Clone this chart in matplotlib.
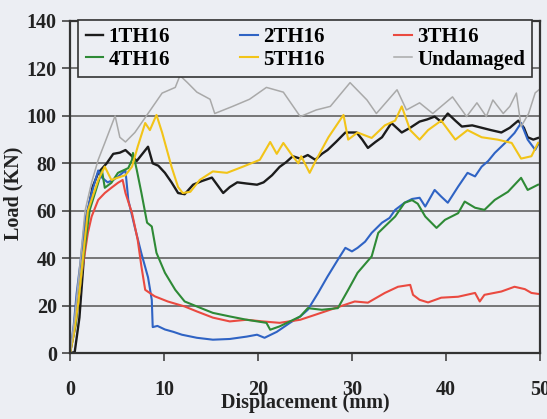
import numpy as np
import matplotlib
matplotlib.use("Agg")
import matplotlib.pyplot as plt

# traced load-displacement curves (displacement mm, load kN)
x_1th16 = [0.0, 0.5, 1.0, 1.8, 2.4, 3.0, 3.9, 4.6, 5.3, 5.9, 6.6, 7.1, 7.7, 8.3, 8.8, 9.4, 10.1, 10.8, 11.5, 12.2,
           13.1, 14.0, 15.1, 16.3, 17.0, 17.8, 18.8, 19.9, 20.6, 21.5, 22.3, 23.0, 23.7, 24.5, 25.3, 26.1, 26.8,
           27.4, 28.3, 29.3, 30.5, 31.1, 31.7, 32.5, 33.2, 34.2, 35.3, 36.2, 37.2, 38.0, 38.8, 39.5, 40.2, 41.0,
           41.7, 42.8, 43.8, 44.8, 45.9, 46.8, 47.7, 48.3, 48.7, 49.3, 49.8]
y_1th16 = [0.0, 0.5, 15.0, 57.6, 70.0, 76.0, 80.0, 84.0, 84.5, 85.6, 83.0, 81.0, 84.0, 87.0, 80.0, 79.0, 76.0, 72.0,
           67.5, 67.0, 71.0, 72.5, 74.0, 67.5, 70.0, 72.0, 71.5, 71.0, 72.0, 75.0, 78.5, 80.5, 83.0, 82.0, 83.5,
           81.5, 84.0, 85.6, 89.0, 93.0, 93.0, 90.0, 86.5, 89.0, 91.0, 97.0, 93.0, 95.0, 97.6, 98.5, 99.7, 97.5,
           101.0, 98.0, 95.5, 96.0, 95.0, 94.0, 93.0, 95.0, 98.0, 95.0, 91.0, 90.0, 90.7]

x_2th16 = [0.0, 0.4, 0.7, 1.1, 1.6, 2.3, 3.0, 3.4, 4.0, 4.6, 5.1, 5.9, 6.2, 6.9, 7.6, 8.3, 8.7, 8.8, 9.3, 10.1,
           11.0, 11.9, 13.5, 15.2, 17.0, 18.8, 19.9, 20.7, 22.0, 23.4, 24.5, 25.3, 26.4, 27.4, 28.5, 29.3, 30.0,
           30.6, 31.4, 32.1, 33.2, 34.0, 34.6, 35.6, 36.4, 37.2, 37.8, 38.8, 39.5, 40.2, 41.3, 42.3, 43.1, 43.8,
           44.5, 45.2, 46.3, 47.3, 48.0, 48.7, 49.5, 49.9]
y_2th16 = [0.0, 12.0, 25.0, 38.0, 56.0, 67.5, 77.0, 74.0, 72.0, 73.0, 74.4, 77.0, 64.6, 53.0, 42.0, 32.0, 22.5, 11.0,
           11.5, 10.0, 9.0, 7.8, 6.5, 5.7, 6.0, 7.0, 7.8, 6.5, 9.0, 12.8, 15.5, 18.3, 25.4, 32.3, 39.4, 44.4, 42.9,
           44.4, 47.0, 50.7, 55.0, 57.0, 60.4, 63.4, 65.0, 65.5, 61.8, 68.8, 66.0, 63.4, 70.2, 76.0, 74.5, 78.6,
           81.0, 84.4, 88.6, 92.8, 97.0, 90.0, 85.7, 88.6]

x_3th16 = [0.0, 0.6, 1.2, 1.9, 2.3, 3.0, 3.7, 4.4, 5.1, 5.6, 5.9, 6.6, 7.2, 7.6, 8.0, 9.0, 10.4, 12.2, 13.5, 15.2,
           17.0, 18.8, 20.5, 22.3, 24.5, 26.1, 28.2, 30.3, 31.7, 33.5, 34.9, 36.2, 36.5, 37.2, 38.1, 39.5, 41.3,
           43.1, 43.6, 44.1, 45.9, 47.3, 48.4, 49.1, 49.8]
y_3th16 = [0.0, 12.0, 32.3, 50.7, 57.6, 64.6, 67.5, 69.7, 71.8, 73.0, 67.5, 59.0, 47.8, 36.5, 26.7, 24.0, 21.8, 19.7,
           17.6, 15.0, 13.4, 14.1, 13.4, 12.8, 14.1, 16.2, 19.0, 21.8, 21.3, 25.4, 28.0, 28.8, 24.6, 22.5, 21.4,
           23.4, 23.8, 25.4, 21.8, 24.6, 26.0, 28.0, 27.0, 25.4, 25.0]

x_4th16 = [0.0, 0.6, 1.4, 2.1, 3.0, 3.4, 3.7, 4.4, 5.1, 6.2, 6.6, 6.7, 7.1, 7.6, 8.2, 8.7, 9.2, 10.1, 11.2, 12.2,
           13.5, 15.2, 17.0, 18.8, 20.9, 21.3, 22.3, 23.4, 24.5, 25.3, 26.8, 28.5, 29.6, 30.6, 32.1, 32.8, 33.5,
           34.6, 35.6, 36.4, 37.0, 37.8, 39.0, 39.9, 41.3, 42.0, 43.1, 44.1, 45.2, 46.6, 48.0, 48.7, 49.8]
y_4th16 = [0.0, 12.0, 39.4, 60.4, 71.8, 77.0, 69.7, 71.8, 76.0, 78.0, 81.5, 84.4, 77.3, 67.5, 55.0, 53.4, 42.3, 33.9,
           26.7, 21.8, 19.7, 17.0, 15.5, 14.1, 12.8, 9.9, 11.3, 13.4, 15.5, 19.0, 18.3, 19.0, 26.7, 33.9, 40.8,
           50.7, 53.4, 57.6, 63.4, 64.5, 63.0, 57.6, 52.8, 56.2, 59.0, 63.9, 61.3, 60.4, 64.6, 68.0, 73.9, 68.8,
           71.0]

x_5th16 = [0.0, 0.4, 0.9, 1.9, 3.0, 3.7, 4.4, 5.1, 5.9, 6.6, 7.2, 8.0, 8.5, 9.2, 9.8, 10.8, 11.5, 12.0, 12.8, 13.8,
           15.2, 16.7, 18.4, 20.2, 21.3, 22.0, 22.7, 23.7, 24.3, 24.6, 25.5, 26.2, 27.5, 29.1, 29.6, 30.6, 32.1,
           33.5, 34.6, 35.3, 36.2, 37.2, 38.1, 39.5, 41.0, 42.3, 43.8, 45.5, 47.0, 48.0, 49.1, 49.8]
y_5th16 = [0.0, 8.0, 22.0, 60.0, 73.0, 78.6, 73.0, 74.0, 75.0, 78.6, 87.0, 97.0, 94.0, 100.4, 93.0, 78.6, 70.0, 67.5,
           68.0, 73.0, 76.6, 76.0, 78.6, 81.5, 89.0, 84.0, 88.6, 83.0, 80.0, 83.0, 76.0, 81.5, 91.0, 100.4, 90.0,
           93.0, 90.7, 96.0, 98.0, 104.0, 94.0, 90.0, 94.0, 98.0, 90.0, 94.0, 91.0, 90.0, 88.6, 82.0, 83.0, 88.6]

x_undamaged = [0.0, 0.5, 1.0, 1.6, 2.3, 3.0, 3.7, 4.8, 5.3, 5.9, 6.9, 8.3, 9.8, 11.2, 11.7, 12.5, 13.5, 14.9, 15.4,
               17.3, 19.1, 20.9, 22.7, 24.5, 26.2, 27.7, 29.8, 31.6, 32.6, 34.8, 35.8, 37.2, 38.6, 40.7, 42.2, 43.3,
               44.3, 45.0, 46.1, 46.8, 47.5, 48.0, 48.8, 49.5, 49.9]
y_undamaged = [0.0, 15.0, 35.0, 60.0, 72.0, 81.5, 88.6, 100.0, 91.0, 89.0, 93.0, 101.0, 109.6, 112.0, 117.0, 114.0,
               110.0, 107.0, 101.0, 104.0, 107.0, 112.0, 110.0, 99.7, 102.5, 104.0, 114.0, 106.7, 101.0, 111.0,
               102.5, 105.5, 101.0, 108.0, 99.7, 105.5, 99.7, 106.7, 101.0, 104.0, 109.6, 95.5, 101.0, 109.7, 111.0]

series = [
    ("1TH16", x_1th16, y_1th16, "#1c1c1c", 1.7),
    ("2TH16", x_2th16, y_2th16, "#2f63c4", 1.5),
    ("3TH16", x_3th16, y_3th16, "#ea4a40", 1.5),
    ("4TH16", x_4th16, y_4th16, "#2e8a36", 1.5),
    ("5TH16", x_5th16, y_5th16, "#f2c418", 1.5),
    ("Undamaged", x_undamaged, y_undamaged, "#a9a9a9", 1.1),
]

plt.rcParams["font.family"] = ["Liberation Serif", "DejaVu Serif"]
plt.rcParams["font.weight"] = "bold"

bg = "#eceef3"
fig = plt.figure(figsize=(5.47, 4.19), dpi=100, facecolor=bg)
ax = fig.add_axes([0.128, 0.157, 0.859, 0.793], facecolor=bg)

handles = []
for lab, xs, ys, col, lw in series:
    h, = ax.plot(xs, ys, color=col, lw=lw, label=lab)
    handles.append(h)

ax.set_xlim(0, 50)
ax.set_ylim(0, 140)
ax.set_xticks(np.arange(0, 51, 10))
ax.set_yticks(np.arange(0, 141, 20))
ax.grid(axis="y", color="#555555", lw=1.1)
ax.set_axisbelow(True)
for s in ax.spines.values():
    s.set_color("#333333")
    s.set_linewidth(1.6)
ax.tick_params(axis="both", length=6, width=1.2, color="#444444", labelsize=14.5, labelcolor="#222222")
ax.tick_params(axis="x", pad=13)
ax.set_xlabel("Displacement (mm)", fontsize=14.5, fontweight="bold", color="#222222", labelpad=-5)
ax.set_ylabel("Load (KN)", fontsize=14.5, fontweight="bold", color="#222222")
ax.yaxis.set_label_coords(-0.1, 0.48)

# legend is filled column-wise, so reorder to read row-wise like the original
order = [0, 3, 1, 4, 2, 5]
leg = ax.legend([handles[i] for i in order], [series[i][0] for i in order], ncol=3,
                loc="upper left", bbox_to_anchor=(0.018, 1.003), fontsize=15, frameon=True,
                fancybox=False, handlelength=0.85, handletextpad=0.25, columnspacing=3.35,
                borderpad=0.35, labelspacing=0.12, borderaxespad=0.0)
leg.get_frame().set_edgecolor("#333333")
leg.get_frame().set_linewidth(1.2)
leg.get_frame().set_facecolor(bg)
leg.get_frame().set_alpha(1.0)

fig.savefig("out.png", dpi=100, facecolor=bg)
